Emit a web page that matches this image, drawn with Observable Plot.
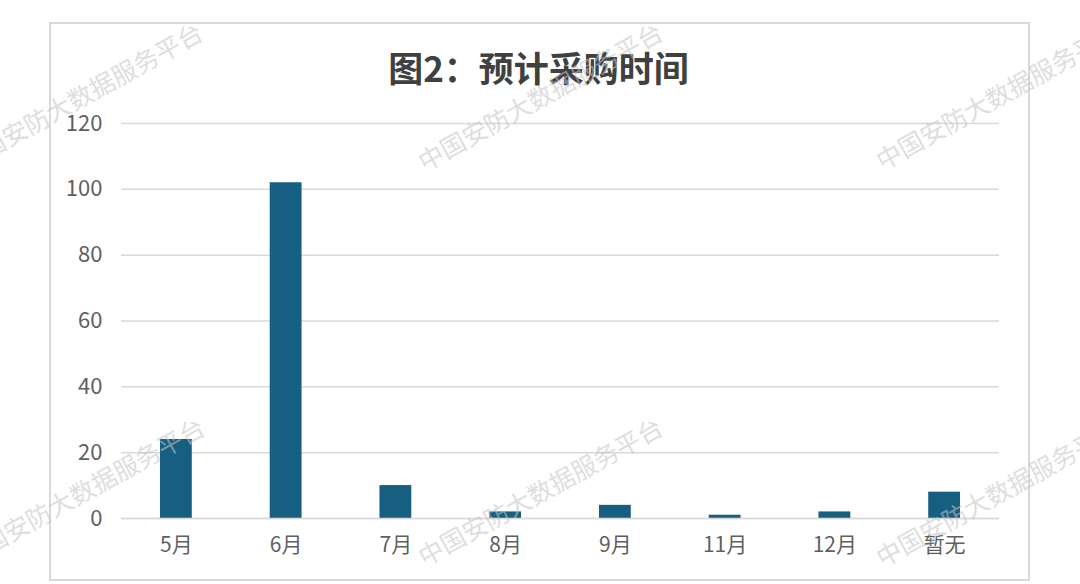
<!DOCTYPE html>
<html>
<head>
<meta charset="utf-8">
<script src="https://cdn.jsdelivr.net/npm/d3@7"></script>
<script src="https://cdn.jsdelivr.net/npm/@observablehq/plot@0.6"></script>
<style>
  html, body { margin: 0; padding: 0; background: #fff; width: 1080px; height: 584px; overflow: hidden; }
  body { position: relative; font-family: "Noto Sans CJK SC", "Noto Sans", sans-serif; }
  #frame { position: absolute; left: 49px; top: 22px; width: 977px; height: 555px; border: 2px solid #d9d9d9; }
  #title { position: absolute; left: 49px; top: 42px; width: 979px; text-align: center; font-size: 35px; font-weight: bold; color: #404040; line-height: 50px; }
  #chart { position: absolute; left: 50px; top: 100px; }
  .wm { position: absolute; font-size: 25px; line-height: 25px; height: 25px; color: #c4c4c4; opacity: 0.55; white-space: nowrap; transform-origin: 12.5px 12.5px; transform: rotate(-29deg); pointer-events: none; }
</style>
</head>
<body>
<div id="frame"></div>
<div id="title">图2：预计采购时间</div>
<div id="chart"></div>
<script>
const categories = ["5月", "6月", "7月", "8月", "9月", "11月", "12月", "暂无"];
const values = [24, 102, 10, 2, 4, 1, 2, 8];
const yTicks = [0, 20, 40, 60, 80, 100, 120];

const data = categories.map((c, i) => ({category: c, value: values[i]}));

const chart = Plot.plot({
  width: 978,
  height: 470,
  marginLeft: 71,
  marginRight: 29,
  marginTop: 23,
  marginBottom: 52,
  style: { fontFamily: '"Noto Sans CJK SC", "Noto Sans", sans-serif', background: "transparent" },
  x: { domain: categories, paddingInner: 0.71, paddingOuter: 0.355, round: false, label: null },
  y: { domain: [0, 120], label: null },
  marks: [
    Plot.gridY(yTicks, { stroke: "#d9d9d9", strokeOpacity: 1, strokeWidth: 1.5 }),
    Plot.barY(data, { x: "category", y: "value", fill: "#175f80" }),
    Plot.ruleY([0], { stroke: "#d9d9d9", strokeWidth: 1.5 }),
    Plot.axisY(yTicks, { tickSize: 0, tickPadding: 19, fontSize: 22, fill: "#5f5f5f", label: null }),
    Plot.axisX({ tickSize: 0, tickPadding: 19, fontSize: 21, fill: "#5f5f5f", label: null })
  ]
});
document.getElementById("chart").appendChild(chart);

// watermark overlay (centres of the first character)
const wmText = "中国安防大数据服务平台";
const wmStarts = [[-30, 156], [430, 156], [888, 155], [-28, 551], [430, 551], [888, 552]];
for (const [cx, cy] of wmStarts) {
  const d = document.createElement("div");
  d.className = "wm";
  d.textContent = wmText;
  d.style.left = (cx - 12.5) + "px";
  d.style.top = (cy - 12.5) + "px";
  document.body.appendChild(d);
}
</script>
</body>
</html>
